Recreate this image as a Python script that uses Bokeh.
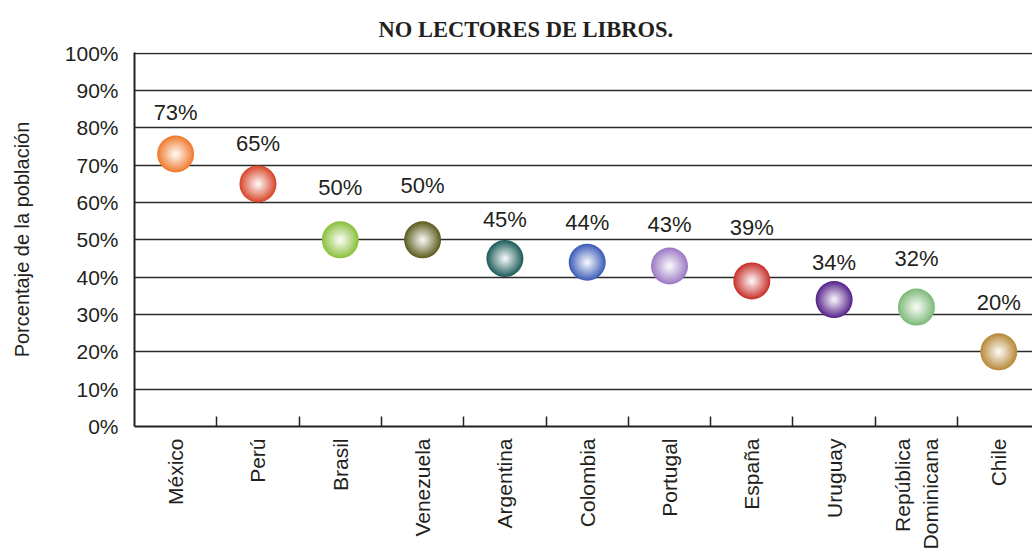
from math import pi
from bokeh.plotting import figure
from bokeh.models import Range1d, FixedTicker, Title, ColumnDataSource
from bokeh.embed import file_html
from bokeh.resources import INLINE

countries = ["México", "Perú", "Brasil", "Venezuela", "Argentina", "Colombia",
             "Portugal", "España", "Uruguay", "República\nDominicana", "Chile"]
values = [73, 65, 50, 50, 45, 44, 43, 39, 34, 32, 20]
ball_colors = ["#F07A2E", "#D8472B", "#8DC03F", "#5E5E22", "#1F5E5C", "#3C5DB8",
               "#9C7AC4", "#C8332E", "#58268C", "#7EBA7A", "#B88A3A"]
y_ticks = [0, 10, 20, 30, 40, 50, 60, 70, 80, 90, 100]
# pixel gap between each ball centre and the baseline of its value label
label_gap_px = [33, 32, 44, 46, 31, 31, 33, 45, 29, 40, 41]

FONT = "Liberation Sans"
TXT = "#231f20"

xs = list(range(1, len(countries) + 1))

p = figure(frame_width=898, frame_height=374,
           x_range=Range1d(0.5, 11.41), y_range=Range1d(0, 100.2),
           output_backend="svg", toolbar_location=None,
           min_border_left=134, min_border_right=0, min_border_top=52,
           min_border_bottom=118, background_fill_color="white",
           border_fill_color="white")
p.outline_line_color = None

t = Title(text="NO LECTORES DE LIBROS.", align="left", offset=244,
          text_font="Liberation Serif", text_font_size="22.5px",
          text_font_style="bold", text_color=TXT, standoff=21)
p.add_layout(t, "above")

# grid
p.xgrid.visible = False
p.ygrid.ticker = FixedTicker(ticks=y_ticks)
p.ygrid.grid_line_color = "#2a2a2a"
p.ygrid.grid_line_width = 1.5

# y axis
p.yaxis.ticker = FixedTicker(ticks=y_ticks)
p.yaxis.major_label_overrides = {v: f"{v}%" for v in y_ticks}
p.yaxis.major_tick_in = 0
p.yaxis.major_tick_out = 0
p.yaxis.minor_tick_line_color = None
p.yaxis.axis_line_width = 2
p.yaxis.axis_line_color = "#222222"
p.yaxis.major_label_text_font = FONT
p.yaxis.major_label_text_font_size = "21px"
p.yaxis.major_label_text_color = TXT
p.yaxis.major_label_standoff = 16
p.yaxis.axis_label = "Porcentaje de la población"
p.yaxis.axis_label_text_font = FONT
p.yaxis.axis_label_text_font_size = "20px"
p.yaxis.axis_label_text_font_style = "normal"
p.yaxis.axis_label_text_color = TXT
p.yaxis.axis_label_standoff = 29

# x axis
p.xaxis.ticker = FixedTicker(ticks=xs, minor_ticks=[x + 0.5 for x in xs[:-1]])
p.xaxis.major_label_overrides = {x: c for x, c in zip(xs, countries)}
p.xaxis.major_tick_in = 0
p.xaxis.major_tick_out = 0
p.xaxis.minor_tick_in = 10
p.xaxis.minor_tick_out = 0
p.xaxis.minor_tick_line_color = "#222222"
p.xaxis.minor_tick_line_width = 1.5
p.xaxis.axis_line_width = 2
p.xaxis.axis_line_color = "#222222"
p.xaxis.major_label_orientation = pi / 2
p.xaxis.major_label_text_font = FONT
p.xaxis.major_label_text_font_size = "21px"
p.xaxis.major_label_text_color = TXT
p.xaxis.major_label_standoff = 12


def mix(hexc, w):
    r, g, b = int(hexc[1:3], 16), int(hexc[3:5], 16), int(hexc[5:7], 16)
    r = round(r + (255 - r) * w)
    g = round(g + (255 - g) * w)
    b = round(b + (255 - b) * w)
    return f"#{r:02x}{g:02x}{b:02x}"


# spheres: layered circles fading to white in the centre
D = 37
N = 18
for k in range(N):
    s = 1 - k / N
    w = (1 - s) ** 0.95
    cols = [mix(c, w) for c in ball_colors]
    src = ColumnDataSource(dict(x=xs, y=values, c=cols))
    p.scatter("x", "y", source=src, size=D * s, fill_color="c",
              line_color=None, marker="circle")

lab = ColumnDataSource(dict(x=xs, y=values, t=[f"{v}%" for v in values],
                            off=[-(g - 4) for g in label_gap_px]))
p.text("x", "y", text="t", source=lab, text_align="center",
       text_baseline="bottom", y_offset="off", text_font={"value": FONT},
       text_font_size={"value": "22px"}, text_color=TXT)

open("out.html", "w").write(file_html(p, INLINE))
